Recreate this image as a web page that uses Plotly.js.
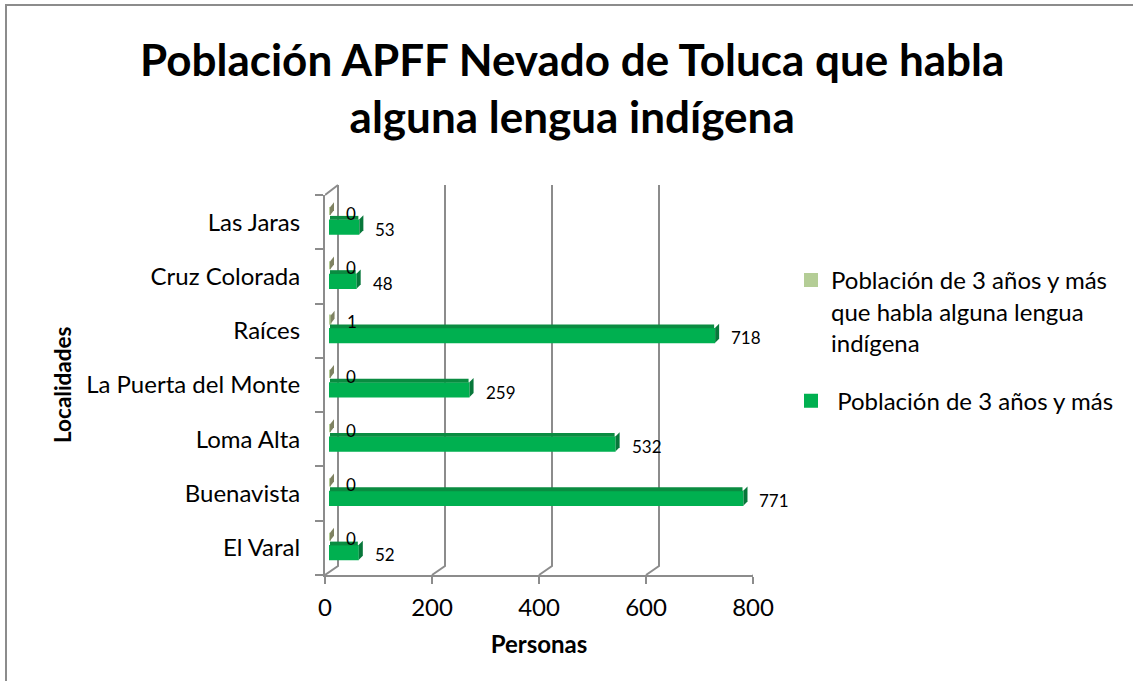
<!DOCTYPE html>
<html>
<head>
<meta charset="utf-8">
<script src="https://cdn.plot.ly/plotly-3.0.1.min.js"></script>
<style>
  html, body { margin: 0; padding: 0; background: #ffffff; }
  #chart { width: 1133px; height: 681px; }
</style>
</head>
<body>
<div id="chart"></div>
<script>
// ---- Data ----
const localidades = ['El Varal', 'Buenavista', 'Loma Alta', 'La Puerta del Monte', 'Raíces', 'Cruz Colorada', 'Las Jaras'];
const poblacion3 = [52, 771, 532, 259, 718, 48, 53];
const hablaIndigena = [0, 0, 0, 0, 1, 0, 0];
const xTicks = [0, 200, 400, 600, 800];
const xTickLabels = ['0', '200', '400', '600', '800'];

const serieIndigena = 'Población de 3 años y más<br>que habla alguna lengua<br>indígena';
const seriePoblacion = '\u00a0Población de 3 años y más';

// ---- Styles ----
const FONT = 'Lato, "Open Sans", sans-serif';
const GREEN = '#00B050';
const GREEN_TOP = '#0A8C41';
const GREEN_SIDE = '#07773A';
const LIGHT = '#B4CD96';
const OLIVE = '#7F8262';
const GRID = '#8C8C8C';

const DEPTH_X = 13, DEPTH_Y = 9, WALL_H = 380;

// ---- Traces ----
const traces = [
  {
    type: 'bar', orientation: 'h', name: serieIndigena, legendgroup: 'a',
    x: hablaIndigena, y: localidades, xaxis: 'x2', yaxis: 'y',
    offset: 0.13, width: 0.15,
    marker: { color: LIGHT, line: { color: LIGHT, width: 2 } }, hoverinfo: 'x+y'
  },
  {
    type: 'bar', orientation: 'h', name: seriePoblacion, legendgroup: 'b',
    x: poblacion3, y: localidades, xaxis: 'x2', yaxis: 'y',
    offset: -0.212, width: 0.244,
    marker: { color: GREEN, line: { color: GREEN, width: 2 } }, hoverinfo: 'x+y'
  },
  {
    type: 'bar', orientation: 'h', name: 'top', showlegend: false,
    x: poblacion3, y: localidades, xaxis: 'x2', yaxis: 'y',
    offset: 0.045, width: 0.07,
    marker: { color: GREEN_TOP }, hoverinfo: 'skip'
  }
];

// ---- Shapes (3D walls and bar depth), derived from ticks / data ----
const shapes = [];
xTicks.forEach(v => {
  shapes.push({
    type: 'path', xref: 'x', yref: 'paper', xsizemode: 'pixel', ysizemode: 'pixel',
    xanchor: v, yanchor: 0,
    path: `M0,0 L${DEPTH_X},${DEPTH_Y} L${DEPTH_X},${WALL_H + 10}`,
    line: { color: GRID, width: 2 }, layer: 'below'
  });
});
shapes.push({
  type: 'path', xref: 'x', yref: 'paper', xsizemode: 'pixel', ysizemode: 'pixel',
  xanchor: xTicks[0], yanchor: 0,
  path: `M0,${WALL_H} L${DEPTH_X},${WALL_H + 10}`,
  line: { color: GRID, width: 2 }, layer: 'below'
});
localidades.forEach((c, i) => {
  // right side face of green bar
  shapes.push({
    type: 'path', xref: 'x2', yref: 'y', xsizemode: 'pixel', ysizemode: 'pixel',
    xanchor: poblacion3[i], yanchor: i,
    path: 'M1,3 L5,7 L5,-8 L1,-12 Z',
    fillcolor: GREEN_SIDE, line: { width: 0 }
  });
  // depth sliver of the (near zero) indigenous-language bar
  shapes.push({
    type: 'path', xref: 'x2', yref: 'y', xsizemode: 'pixel', ysizemode: 'pixel',
    xanchor: hablaIndigena[i], yanchor: i,
    path: 'M0,7 L0,15 L4,20 L4,12 Z',
    fillcolor: OLIVE, line: { width: 0 }
  });
});
// chart border
shapes.push({
  type: 'rect', xref: 'paper', yref: 'paper',
  x0: (6 - 325) / 428, x1: (1145 - 325) / 428,
  y0: (575 - 700) / 380, y1: (575 - 5) / 380,
  line: { color: '#8C8C8C', width: 2 }, fillcolor: 'rgba(0,0,0,0)', layer: 'below'
});

// ---- Data labels and y-axis title ----
const annotations = [];
localidades.forEach((c, i) => {
  annotations.push({
    xref: 'x2', yref: 'y', x: hablaIndigena[i], y: i,
    text: String(hablaIndigena[i]), showarrow: false,
    xanchor: 'left', yanchor: 'middle', xshift: 14, yshift: 9,
    font: { family: FONT, size: 17, color: '#000' }
  });
  annotations.push({
    xref: 'x2', yref: 'y', x: poblacion3[i], y: i,
    text: String(poblacion3[i]), showarrow: false,
    xanchor: 'left', yanchor: 'middle', xshift: 15, yshift: -7,
    font: { family: FONT, size: 17, color: '#000' }
  });
});
annotations.push({
  xref: 'paper', yref: 'paper', x: (62 - 325) / 428, y: 0.5,
  xanchor: 'center', yanchor: 'middle', textangle: -90, showarrow: false,
  text: '<b>Localidades</b>', font: { family: FONT, size: 22.5, color: '#000' }
});

const layout = {
  width: 1133, height: 681,
  margin: { l: 325, r: 380, t: 195, b: 106, pad: 0 },
  paper_bgcolor: '#ffffff', plot_bgcolor: 'rgba(0,0,0,0)',
  font: { family: FONT, color: '#000' },
  barmode: 'overlay',
  title: {
    text: '<b>Población APFF Nevado de Toluca que habla<br>alguna lengua indígena</b>',
    x: 0.505, xanchor: 'center', xref: 'container',
    y: 0.888, yanchor: 'top', yref: 'container',
    font: { family: FONT, size: 44, color: '#000' }
  },
  xaxis: {
    range: [0, 800], tickvals: xTicks, ticktext: xTickLabels,
    showgrid: false, zeroline: false,
    showline: true, linecolor: GRID, linewidth: 2,
    ticks: 'outside', ticklen: 7, tickwidth: 2, tickcolor: GRID,
    ticklabelstandoff: 3,
    tickfont: { family: FONT, size: 24, color: '#000' },
    title: { text: '<b>Personas</b>', font: { family: FONT, size: 24, color: '#000' }, standoff: 16 },
    fixedrange: true
  },
  xaxis2: {
    overlaying: 'x', range: [-9.35, 790.65], visible: false, fixedrange: true
  },
  yaxis: {
    type: 'category', categoryorder: 'array', categoryarray: localidades,
    range: [-0.5, 6.5],
    showgrid: false, zeroline: false,
    showline: true, linecolor: GRID, linewidth: 2,
    ticks: 'outside', tickson: 'boundaries', ticklen: 8, tickwidth: 2, tickcolor: GRID,
    ticklabelstandoff: 18,
    tickfont: { family: FONT, size: 24, color: '#000' },
    fixedrange: true
  },
  legend: {
    x: (791 - 325) / 428, xanchor: 'left', xref: 'paper',
    y: (575 - 258) / 380, yanchor: 'top', yref: 'paper',
    traceorder: 'grouped', valign: 'top', tracegroupgap: 24,
    font: { family: FONT, size: 24, color: '#000' },
    bgcolor: 'rgba(0,0,0,0)', borderwidth: 0
  },
  shapes: shapes,
  annotations: annotations,
  showlegend: true
};

Plotly.newPlot('chart', traces, layout, { displayModeBar: false });
</script>
</body>
</html>
